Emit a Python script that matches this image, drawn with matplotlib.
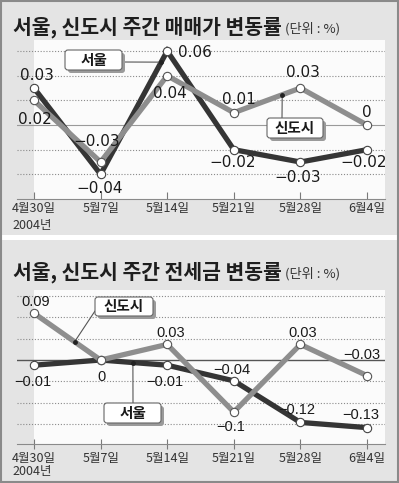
import matplotlib
matplotlib.use("Agg")
import matplotlib.pyplot as plt
from matplotlib.patches import FancyBboxPatch, Rectangle

# ---------------- data ----------------
dates = ["4월30일", "5월7일", "5월14일", "5월21일", "5월28일", "6월4일"]
year_label = "2004년"

sale_seoul = [0.03, -0.04, 0.06, -0.02, -0.03, -0.02]
sale_new = [0.02, -0.03, 0.04, 0.01, 0.03, 0.0]
jeonse_seoul = [-0.01, 0.0, -0.01, -0.04, -0.12, -0.13]
jeonse_new = [0.09, 0.0, 0.03, -0.1, 0.03, -0.03]

title_top = "서울, 신도시 주간 매매가 변동률"
title_bot = "서울, 신도시 주간 전세금 변동률"
unit = "(단위 : %)"
name_seoul = "서울"
name_new = "신도시"

# ---------------- styling ----------------
W, H = 399, 483
BG = "#e4e4e4"
PLOT_BG = "#fbfbfb"
C_SEOUL = "#353535"
C_NEW = "#8e8e8e"
KR = ["Noto Sans CJK KR", "DejaVu Sans"]

fig = plt.figure(figsize=(W / 100, H / 100), dpi=100)
fig.patch.set_facecolor(BG)


def fbox(l, t, r, b):
    return [l / W, 1 - b / H, (r - l) / W, (b - t) / H]


# background overlay (pixel coords)
bg = fig.add_axes([0, 0, 1, 1], zorder=0)
bg.set_xlim(0, W)
bg.set_ylim(H, 0)
bg.axis("off")
bg.add_patch(Rectangle((2, 235), W - 4, 5, color="white", lw=0))
bg.add_patch(Rectangle((1, 1), W - 2, H - 2, fill=False, ec="#8a8a8a", lw=1.5))

# top overlay for texts/boxes
ov = fig.add_axes([0, 0, 1, 1], zorder=3)
ov.set_xlim(0, W)
ov.set_ylim(H, 0)
ov.axis("off")
ov.patch.set_alpha(0)

XL = (-0.255, 5.27)


def fmt(v):
    if v == 0:
        return "0"
    s = f"{abs(v):.2f}".rstrip("0")
    if s.endswith("."):
        s += "0"
    return ("\u2212" if v < 0 else "") + s


def make_panel(rect, ylim, grid_vals, zero_style, seoul, new, seoul_offs, new_offs,
               num_font, num_size, year_dy, tick_len, tick_dir):
    ax = fig.add_axes(rect, zorder=1)
    ax.set_xlim(*XL)
    ax.set_ylim(*ylim)
    ax.patch.set_alpha(0)
    ax.axvspan(0, XL[1], color=PLOT_BG, lw=0, zorder=0)
    for g in grid_vals:
        ax.axhline(g, color="#8a8a8a", lw=0.8, ls=(0, (1, 1.6)), zorder=1)
    ax.axhline(0, zorder=1, **zero_style)
    for s in ["top", "left", "right"]:
        ax.spines[s].set_visible(False)
    ax.spines["bottom"].set_color("#8a8a8a")
    ax.spines["bottom"].set_linewidth(0.8)
    ax.set_yticks([])
    x = list(range(len(dates)))
    ax.set_xticks(x, dates, fontfamily=KR, fontsize=9, color="#333333")
    ax.tick_params(axis="x", direction=tick_dir, length=tick_len, width=0.8,
                   color="#7a7a7a", pad=2)
    ax.annotate(year_label, xy=(0, ylim[0]), xycoords="data", xytext=(-2, year_dy),
                textcoords="offset pixels", ha="center", va="center",
                fontfamily=KR, fontsize=9, color="#333333")
    ax.plot(x, seoul, color=C_SEOUL, lw=3.8, zorder=3, solid_joinstyle="miter",
            marker="o", ms=6, mfc="white", mec="#444444", mew=0.8)
    ax.plot(x, new, color=C_NEW, lw=3.8, zorder=4, solid_joinstyle="miter",
            marker="o", ms=6, mfc="white", mec="#555555", mew=0.8)
    for xi, v, off in zip(x, seoul, seoul_offs):
        if off is None:
            continue
        ax.annotate(fmt(v), xy=(xi, v), xytext=off, textcoords="offset pixels",
                    ha="center", va="center", fontfamily=[num_font], fontsize=num_size,
                    color="#1a1a1a", zorder=6)
    for xi, v, off in zip(x, new, new_offs):
        if off is None:
            continue
        ax.annotate(fmt(v), xy=(xi, v), xytext=off, textcoords="offset pixels",
                    ha="center", va="center", fontfamily=[num_font], fontsize=num_size,
                    color="#1a1a1a", zorder=6)
    return ax


def callout(ax, series, i, t, box, anchor):
    # dot on segment i -> i+1 at fraction t, leader to box anchor (pixel coords)
    xd = i + t
    yd = series[i] + (series[i + 1] - series[i]) * t
    ax.annotate("", xy=(xd, yd), xycoords="data", xytext=anchor, textcoords=ov.transData,
                arrowprops=dict(arrowstyle="-", color="#555555", lw=0.8,
                                shrinkA=0, shrinkB=0), zorder=5)
    ax.plot([xd], [yd], "o", color="#222222", ms=2.5, zorder=6)
    l, t_, r, b = box
    ov.add_patch(FancyBboxPatch((l + 3, t_ + 3), r - l, b - t_,
                                boxstyle="round,pad=0,rounding_size=3",
                                fc="#9a9a9a", ec="none"))
    ov.add_patch(FancyBboxPatch((l, t_), r - l, b - t_,
                                boxstyle="round,pad=0,rounding_size=3",
                                fc="white", ec="#666666", lw=0.8))


# ----- top panel -----
top_ylim = (-0.06, -0.06 + 159 / 1233)
ax1 = make_panel(fbox(17, 40, 385, 199), top_ylim,
                 [0.06, 0.04, 0.02, -0.02, -0.04],
                 dict(color="#9a9a9a", lw=0.8),
                 sale_seoul, sale_new,
                 [(3, 13), (-1, -14), (28, -1), (-1, -13), (-3, -15), (-3, -13)],
                 [(1, -19), (-4, 21), (3, -18), (5, 13), (3, 16), (0, 13)],
                 "DejaVu Sans", 11, -26, 5, "in")
callout(ax1, sale_seoul, 1, 0.91, (65, 50, 122, 70), (122, 62))
ov.text(93.5, 60, name_seoul, ha="center", va="center", fontfamily=KR,
        fontsize=10.5, fontweight="bold", color="#1a1a1a")
callout(ax1, sale_new, 3, 0.727, (267, 118, 323, 138), (282, 118))
ov.text(295, 128, name_new, ha="center", va="center", fontfamily=KR,
        fontsize=10.5, fontweight="bold", color="#1a1a1a")

# ----- bottom panel -----
bot_ylim = (-0.1615, -0.1615 + 154 / 520)
gs = 0.041
ax2 = make_panel(fbox(17, 290, 385, 444), bot_ylim,
                 [3 * gs, 2 * gs, gs, -gs, -2 * gs, -3 * gs],
                 dict(color="#555555", lw=1.0),
                 jeonse_seoul, jeonse_new,
                 [(-1, -17), (1, -17), (-2, -17), (-2, 11), (-4, 12), (-6, 13)],
                 [(2, 11), None, (3, 11), (-3, -15), (2, 11), (-5, 21)],
                 "Liberation Sans", 10.5, -27, 7, "inout")
callout(ax2, jeonse_new, 0, 0.61, (95, 297, 153, 316), (95, 311))
ov.text(124, 306.5, name_new, ha="center", va="center", fontfamily=KR,
        fontsize=10.5, fontweight="bold", color="#1a1a1a")
callout(ax2, jeonse_seoul, 1, 0.485, (104, 403, 161, 423), (133, 403))
ov.text(132.5, 413, name_seoul, ha="center", va="center", fontfamily=KR,
        fontsize=10.5, fontweight="bold", color="#1a1a1a")

# ----- titles -----
for ytb, ttl in [(33, title_top), (278, title_bot)]:
    ov.text(13, ytb, ttl, ha="left", va="baseline", fontfamily=KR,
            fontsize=14.7, fontweight="black", color="#1e1e1e")
    ov.text(285, ytb, unit, ha="left", va="baseline", fontfamily=KR,
            fontsize=9.5, color="#333333")

fig.savefig("out.png", dpi=100, facecolor=BG)
